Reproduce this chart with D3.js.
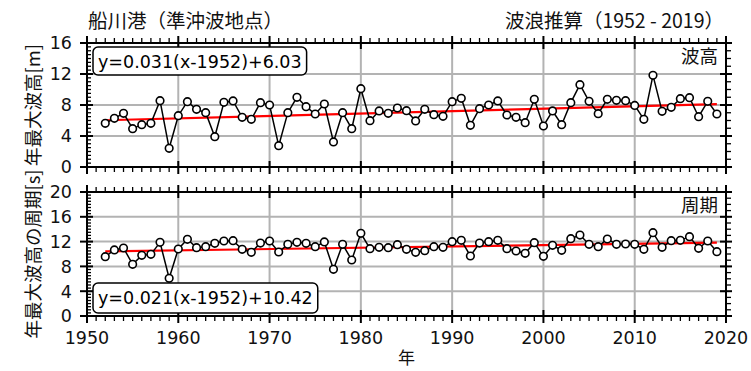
<!DOCTYPE html>
<html>
<head>
<meta charset="utf-8">
<script src="https://cdn.jsdelivr.net/npm/d3@7"></script>
<style>
  html, body { margin: 0; padding: 0; background: #fff; }
  svg { display: block; }
</style>
</head>
<body>
<svg id="chart" width="751" height="371"></svg>
<script>
// ---------------- data ----------------
const years = d3.range(1952, 2020);
const waveHeight = [
  5.64, 6.28, 6.93, 4.95, 5.46, 5.64, 8.56, 2.41, 6.62, 8.43, 7.44, 7.01, 3.91, 8.34, 8.52, 6.41, 6.15, 8.30, 8.00, 2.75, 7.01, 8.99, 7.78,
  6.84, 8.13, 3.23, 7.01, 4.95, 10.10, 5.98, 7.23, 6.93, 7.61, 7.27, 5.94, 7.44, 6.75, 6.54, 8.43, 8.86, 5.38, 7.53, 8.00, 8.52, 6.71, 6.41, 5.72,
  8.73, 5.29, 7.23, 5.46, 8.30, 10.62, 8.47, 6.88, 8.73, 8.60, 8.56, 7.95, 6.15, 11.83, 7.18, 7.70, 8.82, 8.95, 6.49, 8.47, 6.84
];
const wavePeriod = [
  9.57, 10.65, 10.97, 8.33, 9.78, 9.94, 11.88, 6.08, 10.81, 12.37, 11.02, 11.18, 11.72, 12.10, 12.15, 10.75, 10.27, 11.77, 12.10, 10.32, 11.56, 11.88, 11.72,
  11.18, 11.94, 7.53, 11.56, 9.03, 13.33, 10.86, 11.08, 11.02, 11.50, 10.75, 10.27, 10.54, 11.18, 11.08, 11.99, 12.20, 9.68, 11.77, 11.99, 12.20, 10.86, 10.48, 10.11,
  11.83, 9.62, 11.40, 10.59, 12.47, 13.06, 11.56, 11.18, 12.42, 11.56, 11.61, 11.56, 10.75, 13.44, 11.08, 12.15, 12.20, 12.80, 10.92, 12.10, 10.38
];
const trendSlopes = [0.031, 0.021];
const trendIntercepts = [6.03, 10.42];
const equationLabels = ["y=0.031(x-1952)+6.03", "y=0.021(x-1952)+10.42"];
const panelNames = ["波高", "周期"];
const yLabels = ["年最大波高[m]", "年最大波高の周期[s]"];
const yDomains = [[0, 16], [0, 20]];
const yTickValues = [[0, 4, 8, 12, 16], [0, 4, 8, 12, 16, 20]];
const xTickValues = [1950, 1960, 1970, 1980, 1990, 2000, 2010, 2020];
const titleLeft = "船川港（準沖波地点）";
const titleRight = "波浪推算（1952 - 2019）";
const xLabel = "年";

// ---------------- layout ----------------
const svg = d3.select("#chart");
const JP = "'Noto Sans CJK JP', 'Noto Sans CJK SC', sans-serif";
const NUM = "'DejaVu Sans', sans-serif";
const left = 87, right = 726;
const panels = [{top: 43, bottom: 167}, {top: 192, bottom: 316}];
const x = d3.scaleLinear().domain([1950, 2020]).range([left, right]);
const gridColor = "#b3b3b3";

// titles
svg.append("text").attr("x", 88).attr("y", 28).attr("font-family", JP).attr("font-size", 19.5)
  .attr("fill", "#111").text(titleLeft);
svg.append("text").attr("x", 724).attr("y", 28).attr("text-anchor", "end").attr("font-family", JP)
  .attr("font-size", 19.5).attr("fill", "#111").text(titleRight);

const seriesList = [waveHeight, wavePeriod];

panels.forEach((p, i) => {
  const y = d3.scaleLinear().domain(yDomains[i]).range([p.bottom, p.top]);
  const g = svg.append("g");
  const data = years.map((yr, k) => ({yr, v: seriesList[i][k]}));

  // grid
  g.selectAll(".gx").data(xTickValues.slice(1, -1)).join("line")
    .attr("x1", d => x(d)).attr("x2", d => x(d)).attr("y1", p.top).attr("y2", p.bottom)
    .attr("stroke", gridColor).attr("stroke-width", 2);
  g.selectAll(".gy").data(yTickValues[i].slice(1, -1)).join("line")
    .attr("x1", left).attr("x2", right).attr("y1", d => y(d)).attr("y2", d => y(d))
    .attr("stroke", gridColor).attr("stroke-width", 2);

  // trend line
  const tr = yr => trendIntercepts[i] + trendSlopes[i] * (yr - 1952);
  g.append("line")
    .attr("x1", x(years[0])).attr("x2", x(years[years.length - 1]))
    .attr("y1", y(tr(years[0]))).attr("y2", y(tr(years[years.length - 1])))
    .attr("stroke", "#ff0000").attr("stroke-width", 2.2);

  // data line
  g.append("path").datum(data)
    .attr("d", d3.line().x(d => x(d.yr)).y(d => y(d.v)))
    .attr("fill", "none").attr("stroke", "#000").attr("stroke-width", 1.5);
  g.selectAll(".pt").data(data).join("circle")
    .attr("cx", d => x(d.yr)).attr("cy", d => y(d.v)).attr("r", 3.8)
    .attr("fill", "#fff").attr("stroke", "#000").attr("stroke-width", 1.6);

  // ticks: x minor (outward) and major (cross)
  const minorYears = d3.range(1950, 2021).filter(d => d % 10 !== 0);
  [[p.top, -1], [p.bottom, 1]].forEach(([yy, dir]) => {
    g.selectAll(null).data(minorYears).join("line")
      .attr("x1", d => x(d)).attr("x2", d => x(d))
      .attr("y1", yy).attr("y2", yy + dir * 5)
      .attr("stroke", "#000").attr("stroke-width", 1.3);
    g.selectAll(null).data(xTickValues).join("line")
      .attr("x1", d => x(d)).attr("x2", d => x(d))
      .attr("y1", yy - dir * 6).attr("y2", yy + dir * 7)
      .attr("stroke", "#000").attr("stroke-width", 2);
  });
  // y ticks left: minor inward every 0.5, major crossing
  const [y0, y1] = yDomains[i];
  const leftMinor = d3.range(y0, y1 + 0.001, 0.5).filter(d => d % 4 !== 0);
  g.selectAll(null).data(leftMinor).join("line")
    .attr("x1", left).attr("x2", left + 4).attr("y1", d => y(d)).attr("y2", d => y(d))
    .attr("stroke", "#000").attr("stroke-width", 1.3);
  g.selectAll(null).data(yTickValues[i]).join("line")
    .attr("x1", left - 7).attr("x2", left + 6).attr("y1", d => y(d)).attr("y2", d => y(d))
    .attr("stroke", "#000").attr("stroke-width", 2);
  // y ticks right: minor outward every 1, major
  const rightMinor = d3.range(y0, y1 + 0.001, 1).filter(d => d % 4 !== 0);
  g.selectAll(null).data(rightMinor).join("line")
    .attr("x1", right).attr("x2", right + 5).attr("y1", d => y(d)).attr("y2", d => y(d))
    .attr("stroke", "#000").attr("stroke-width", 1.3);
  g.selectAll(null).data(yTickValues[i]).join("line")
    .attr("x1", right - 6).attr("x2", right + 6).attr("y1", d => y(d)).attr("y2", d => y(d))
    .attr("stroke", "#000").attr("stroke-width", 2);

  // border
  g.append("rect").attr("x", left).attr("y", p.top).attr("width", right - left).attr("height", p.bottom - p.top)
    .attr("fill", "none").attr("stroke", "#000").attr("stroke-width", 2);

  // y tick labels
  g.selectAll(null).data(yTickValues[i]).join("text")
    .attr("x", 72).attr("y", d => y(d)).attr("dy", "0.36em")
    .attr("text-anchor", "end").attr("font-family", NUM).attr("font-size", 17.5).attr("fill", "#111")
    .text(d => d);

  // y label
  g.append("text")
    .attr("transform", `translate(40,${(p.top + p.bottom) / 2}) rotate(-90)`)
    .attr("text-anchor", "middle").attr("font-family", JP).attr("font-size", 18.5).attr("fill", "#111")
    .text(yLabels[i]);

  // panel name
  g.append("text").attr("x", 718).attr("y", i === 0 ? 63 : 212).attr("text-anchor", "end")
    .attr("font-family", JP).attr("font-size", 18.5).attr("fill", "#111").text(panelNames[i]);

  // equation box
  const eq = g.append("g");
  const ey = i === 0 ? 47 : 283;
  const txt = eq.append("text").attr("x", 98).attr("y", ey + 21)
    .attr("font-family", NUM).attr("font-size", 17.5).attr("fill", "#000").text(equationLabels[i]);
  const w = txt.node().getComputedTextLength();
  eq.insert("rect", "text").attr("x", 93).attr("y", ey).attr("width", w + 10).attr("height", i === 0 ? 28 : 30)
    .attr("rx", 5).attr("ry", 5).attr("fill", "#fff").attr("stroke", "#000").attr("stroke-width", 1.5);
});

// x tick labels (bottom)
svg.selectAll(".xl").data(xTickValues).join("text")
  .attr("x", d => x(d)).attr("y", 344).attr("text-anchor", "middle")
  .attr("font-family", NUM).attr("font-size", 17.5).attr("fill", "#111").text(d => d);
svg.append("text").attr("x", (left + right) / 2).attr("y", 364).attr("text-anchor", "middle")
  .attr("font-family", JP).attr("font-size", 17).attr("fill", "#111").text(xLabel);
</script>
</body>
</html>
